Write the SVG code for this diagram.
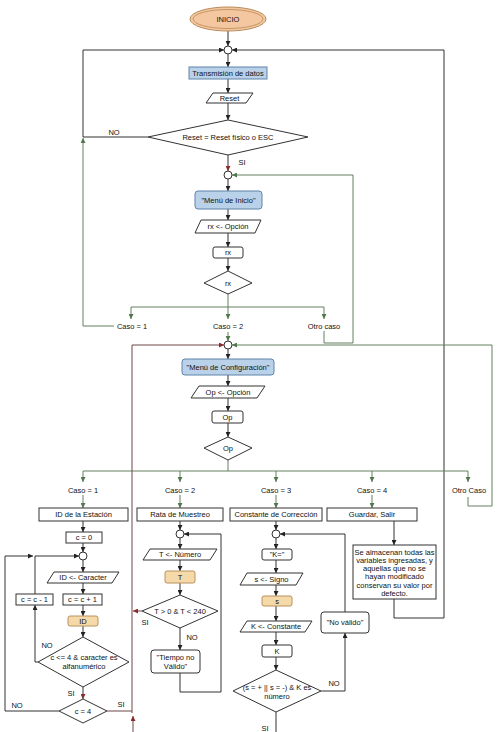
<svg xmlns="http://www.w3.org/2000/svg" width="498" height="732" viewBox="0 0 498 732">
<defs>
<style>
.n{fill:#fff;stroke:#333;stroke-width:1}
.bl{fill:#b9d2ea;stroke:#5f82aa;stroke-width:1}
.or{fill:#f6d9a9;stroke:#b8925e;stroke-width:1}
.t{font-family:"Liberation Sans",Arial,sans-serif;font-size:7.5px;fill:#111;text-anchor:middle}
.k{fill:none;stroke:#333;stroke-width:1}
.g{fill:none;stroke:#62805f;stroke-width:1}
.r{fill:none;stroke:#6e4646;stroke-width:1}
</style>
<marker id="ak" viewBox="0 0 10 10" refX="10" refY="5" markerWidth="5" markerHeight="5" orient="auto" markerUnits="userSpaceOnUse"><path d="M0,0L10,5L0,10z" fill="#222"/></marker>
<marker id="ag" viewBox="0 0 10 10" refX="10" refY="5" markerWidth="5" markerHeight="5" orient="auto" markerUnits="userSpaceOnUse"><path d="M0,0L10,5L0,10z" fill="#4f7a4c"/></marker>
<marker id="ar" viewBox="0 0 10 10" refX="10" refY="5" markerWidth="5" markerHeight="5" orient="auto" markerUnits="userSpaceOnUse"><path d="M0,0L10,5L0,10z" fill="#8a2a2a"/></marker>
</defs>
<rect width="498" height="732" fill="#fff"/>

<g id="connectors">
<path class="k" d="M228,31V46" marker-end="url(#ak)"/>
<path class="k" d="M228,54V67" marker-end="url(#ak)"/>
<path class="k" d="M228,79V93" marker-end="url(#ak)"/>
<path class="k" d="M228,103V120" marker-end="url(#ak)"/>
<path class="k" d="M228,155V171" marker-end="url(#ar)"/>
<path class="k" d="M148,137H83V50H224" marker-end="url(#ak)"/>
<path class="k" d="M394,599V618H444V50H232" marker-end="url(#ak)"/>
<path class="k" d="M228,179V191" marker-end="url(#ak)"/>
<path class="k" d="M228,209V220" marker-end="url(#ak)"/>
<path class="k" d="M228,233V247" marker-end="url(#ak)"/>
<path class="k" d="M228,258V271" marker-end="url(#ak)"/>
<path class="g" d="M228,294V307"/>
<path class="g" d="M131,307H324"/>
<path class="g" d="M131,307V319" marker-end="url(#ag)"/>
<path class="g" d="M228,307V319" marker-end="url(#ag)"/>
<path class="g" d="M324,307V319" marker-end="url(#ag)"/>
<path class="g" d="M114,326H83V138" marker-end="url(#ag)"/>
<path class="g" d="M228,332V341" marker-end="url(#ag)"/>
<path class="g" d="M324,331V343H353V175H232" marker-end="url(#ag)"/>
<path class="k" d="M228,349V359" marker-end="url(#ak)"/>
<path class="k" d="M228,375V386" marker-end="url(#ak)"/>
<path class="k" d="M228,398V411" marker-end="url(#ak)"/>
<path class="k" d="M228,423V437" marker-end="url(#ak)"/>
<path class="g" d="M228,460V471"/>
<path class="g" d="M83,471H468"/>
<path class="g" d="M83,471V482" marker-end="url(#ag)"/>
<path class="g" d="M180,471V482" marker-end="url(#ag)"/>
<path class="g" d="M276,471V482" marker-end="url(#ag)"/>
<path class="g" d="M372,471V482" marker-end="url(#ag)"/>
<path class="g" d="M468,471V482" marker-end="url(#ag)"/>
<path class="g" d="M83,495V508" marker-end="url(#ag)"/>
<path class="g" d="M180,495V508" marker-end="url(#ag)"/>
<path class="g" d="M276,495V508" marker-end="url(#ag)"/>
<path class="g" d="M372,495V508" marker-end="url(#ag)"/>
<path class="g" d="M468,497V506H492V345H232" marker-end="url(#ag)"/>
<path class="r" d="M132,713V345H224" marker-end="url(#ar)"/>
<path class="r" d="M107,711H132"/>
<path class="r" d="M142,611H133" marker-end="url(#ar)"/>
<path class="r" d="M133,732V716" marker-end="url(#ar)"/>
<path class="k" d="M83,521V532" marker-end="url(#ak)"/>
<path class="k" d="M83,543V552" marker-end="url(#ak)"/>
<path class="k" d="M83,560V572" marker-end="url(#ak)"/>
<path class="k" d="M83,583V594" marker-end="url(#ak)"/>
<path class="k" d="M83,605V616" marker-end="url(#ak)"/>
<path class="k" d="M83,626V637" marker-end="url(#ak)"/>
<path class="k" d="M83,687V699" marker-end="url(#ar)"/>
<path class="k" d="M59,711H5V556H33" marker-end="url(#ak)"/>
<path class="k" d="M35,594V556H79" marker-end="url(#ak)"/>
<path class="k" d="M38,662H35V605" marker-end="url(#ak)"/>
<path class="k" d="M180,521V530" marker-end="url(#ak)"/>
<path class="k" d="M180,538V549" marker-end="url(#ak)"/>
<path class="k" d="M180,560V571" marker-end="url(#ak)"/>
<path class="k" d="M180,583V595" marker-end="url(#ak)"/>
<path class="k" d="M180,628V650" marker-end="url(#ak)"/>
<path class="k" d="M180,673V692H221V534H184" marker-end="url(#ak)"/>
<path class="k" d="M276,521V530" marker-end="url(#ak)"/>
<path class="k" d="M276,538V549" marker-end="url(#ak)"/>
<path class="k" d="M276,560V573" marker-end="url(#ak)"/>
<path class="k" d="M276,585V596" marker-end="url(#ak)"/>
<path class="k" d="M276,606V621" marker-end="url(#ak)"/>
<path class="k" d="M276,632V645" marker-end="url(#ak)"/>
<path class="k" d="M276,657V670" marker-end="url(#ak)"/>
<path class="k" d="M345,612V534H280" marker-end="url(#ak)"/>
<path class="k" d="M321,691H345V633" marker-end="url(#ak)"/>
<path class="k" d="M276,712V732"/>
<path class="k" d="M394,521V545" marker-end="url(#ak)"/>
</g>

<g id="labels">
<text class="t" x="114" y="134.5">NO</text>
<text class="t" x="242" y="164.5">SI</text>
<text class="t" x="132" y="328.5">Caso = 1</text>
<text class="t" x="228" y="328.5">Caso = 2</text>
<text class="t" x="324" y="328.5">Otro caso</text>
<text class="t" x="83" y="492.5">Caso = 1</text>
<text class="t" x="180" y="492.5">Caso = 2</text>
<text class="t" x="276" y="492.5">Caso = 3</text>
<text class="t" x="372" y="492.5">Caso = 4</text>
<text class="t" x="469" y="492.5">Otro Caso</text>
<text class="t" x="47" y="647.5">NO</text>
<text class="t" x="71" y="695.5">SI</text>
<text class="t" x="17" y="707.5">NO</text>
<text class="t" x="121" y="706.5">SI</text>
<text class="t" x="145" y="624.5">SI</text>
<text class="t" x="192" y="639.5">NO</text>
<text class="t" x="334" y="685.5">NO</text>
<text class="t" x="265" y="730.5">SI</text>
</g>

<g id="inicio">
<ellipse cx="228" cy="19" rx="38" ry="12" fill="#f4c7a0" stroke="#b98a58" stroke-width="1"/>
<ellipse cx="228" cy="19" rx="35" ry="9.5" fill="none" stroke="#b98a58" stroke-width="0.8"/>
<text class="t" x="228" y="21.7">INICIO</text>
</g>
<g id="j1"><circle class="n" cx="228" cy="50" r="4"/></g>
<g id="transmision"><rect class="bl" x="189" y="67" width="78" height="12"/><text class="t" x="228" y="75.7">Transmisión de datos</text></g>
<g id="reset"><path class="n" d="M213,93H253L246,103H206Z"/><text class="t" x="229.5" y="100.7">Reset</text></g>
<g id="d-reset"><path class="n" d="M228,120L308,137L228,155L148,137Z"/><text class="t" x="228" y="139.7">Reset = Reset físico o ESC</text></g>
<g id="j2"><circle class="n" cx="228" cy="175" r="4"/></g>
<g id="menu-inicio"><rect class="bl" x="195" y="191" width="67" height="18" rx="3"/><text class="t" x="228.5" y="202.7">"Menú de Inicio"</text></g>
<g id="rx-in"><path class="n" d="M201,220H261L255,233H195Z"/><text class="t" x="228" y="229.2">rx &lt;- Opción</text></g>
<g id="rx-box"><rect class="n" x="213" y="247" width="30" height="11" rx="2"/><text class="t" x="228" y="255.2">rx</text></g>
<g id="d-rx"><path class="n" d="M228,271L252,283L228,294L204,283Z"/><text class="t" x="228" y="285.7">rx</text></g>
<g id="j3"><circle class="n" cx="228" cy="345" r="4"/></g>
<g id="menu-config"><rect class="bl" x="182" y="359" width="92" height="16" rx="3"/><text class="t" x="228" y="369.7">"Menú de Configuración"</text></g>
<g id="op-in"><path class="n" d="M199,386H265L257,398H191Z"/><text class="t" x="228" y="394.7">Op &lt;- Opción</text></g>
<g id="op-box"><rect class="n" x="212" y="411" width="31" height="12" rx="2"/><text class="t" x="227.5" y="419.7">Op</text></g>
<g id="d-op"><path class="n" d="M228,437L252,448L228,460L204,448Z"/><text class="t" x="228" y="450.7">Op</text></g>

<g id="id-estacion"><rect class="n" x="39" y="508" width="89" height="13"/><text class="t" x="83.5" y="517.2">ID de la Estación</text></g>
<g id="c0"><rect class="n" x="66" y="532" width="36" height="11"/><text class="t" x="84" y="540.2">c = 0</text></g>
<g id="j4"><circle class="n" cx="83" cy="556" r="4"/></g>
<g id="id-in"><path class="n" d="M54,572H119L112,583H47Z"/><text class="t" x="83" y="580.2">ID &lt;- Caracter</text></g>
<g id="cmas"><rect class="n" x="63" y="594" width="39" height="11"/><text class="t" x="82.5" y="602.2">c = c + 1</text></g>
<g id="cmenos"><rect class="n" x="16" y="594" width="37" height="11"/><text class="t" x="34.5" y="602.2">c = c - 1</text></g>
<g id="id-box"><rect class="or" x="68" y="616" width="30" height="10" rx="2"/><text class="t" x="83" y="623.7">ID</text></g>
<g id="d-alfa"><path class="n" d="M83,637L129,662L83,687L38,662Z"/><text class="t" x="84" y="660">c &lt;= 4 &amp; caracter es</text><text class="t" x="84" y="669">alfanumérico</text></g>
<g id="d-c4"><path class="n" d="M83,699L107,711L83,723L59,711Z"/><text class="t" x="83" y="713.7">c = 4</text></g>

<g id="rata"><rect class="n" x="137" y="508" width="86" height="13"/><text class="t" x="180" y="517.2">Rata de Muestreo</text></g>
<g id="j5"><circle class="n" cx="180" cy="534" r="4"/></g>
<g id="t-in"><path class="n" d="M150,549H217L210,560H143Z"/><text class="t" x="180" y="557.2">T &lt;- Número</text></g>
<g id="t-box"><rect class="or" x="165" y="571" width="30" height="12" rx="2"/><text class="t" x="180" y="579.7">T</text></g>
<g id="d-t"><path class="n" d="M180,595L218,611L180,628L142,611Z"/><text class="t" x="180" y="613.7">T &gt; 0 &amp; T &lt; 240</text></g>
<g id="tiempo"><rect class="n" x="151" y="650" width="49" height="23" rx="3"/><text class="t" x="175.5" y="660">"Tiempo no</text><text class="t" x="175.5" y="669">Válido"</text></g>

<g id="constante"><rect class="n" x="230" y="508" width="92" height="13"/><text class="t" x="276" y="517.2">Constante de Corrección</text></g>
<g id="j6"><circle class="n" cx="276" cy="534" r="4"/></g>
<g id="k-msg"><rect class="n" x="262" y="549" width="30" height="11" rx="2"/><text class="t" x="277" y="557.2">"K="</text></g>
<g id="s-in"><path class="n" d="M247,573H303L296,585H240Z"/><text class="t" x="271.5" y="581.7">s &lt;- Signo</text></g>
<g id="s-box"><rect class="or" x="262" y="596" width="30" height="10" rx="2"/><text class="t" x="277" y="603.7">s</text></g>
<g id="k-in"><path class="n" d="M247,621H312L305,632H240Z"/><text class="t" x="276" y="629.2">K &lt;- Constante</text></g>
<g id="k-box"><rect class="n" x="262" y="645" width="30" height="12" rx="2"/><text class="t" x="277" y="653.7">K</text></g>
<g id="d-k"><path class="n" d="M276,670L321,691L276,712L233,691Z"/><text class="t" x="277" y="689.5">(s = + || s = -) &amp; K es</text><text class="t" x="277" y="699">número</text></g>
<g id="no-valido"><rect class="n" x="321" y="612" width="48" height="21" rx="3"/><text class="t" x="345" y="625.2">"No válido"</text></g>

<g id="guardar"><rect class="n" x="327" y="508" width="90" height="13"/><text class="t" x="372" y="517.2">Guardar, Salir</text></g>
<g id="almacenan"><rect class="n" x="353" y="545" width="83" height="54"/>
<text class="t" x="394.5" y="554.5">Se almacenan todas las</text>
<text class="t" x="394.5" y="562.8">variables ingresadas, y</text>
<text class="t" x="394.5" y="571.1">aquellas que no se</text>
<text class="t" x="394.5" y="579.4">hayan modificado</text>
<text class="t" x="394.5" y="587.7">conservan su valor por</text>
<text class="t" x="394.5" y="596">defecto.</text>
</g>
</svg>
